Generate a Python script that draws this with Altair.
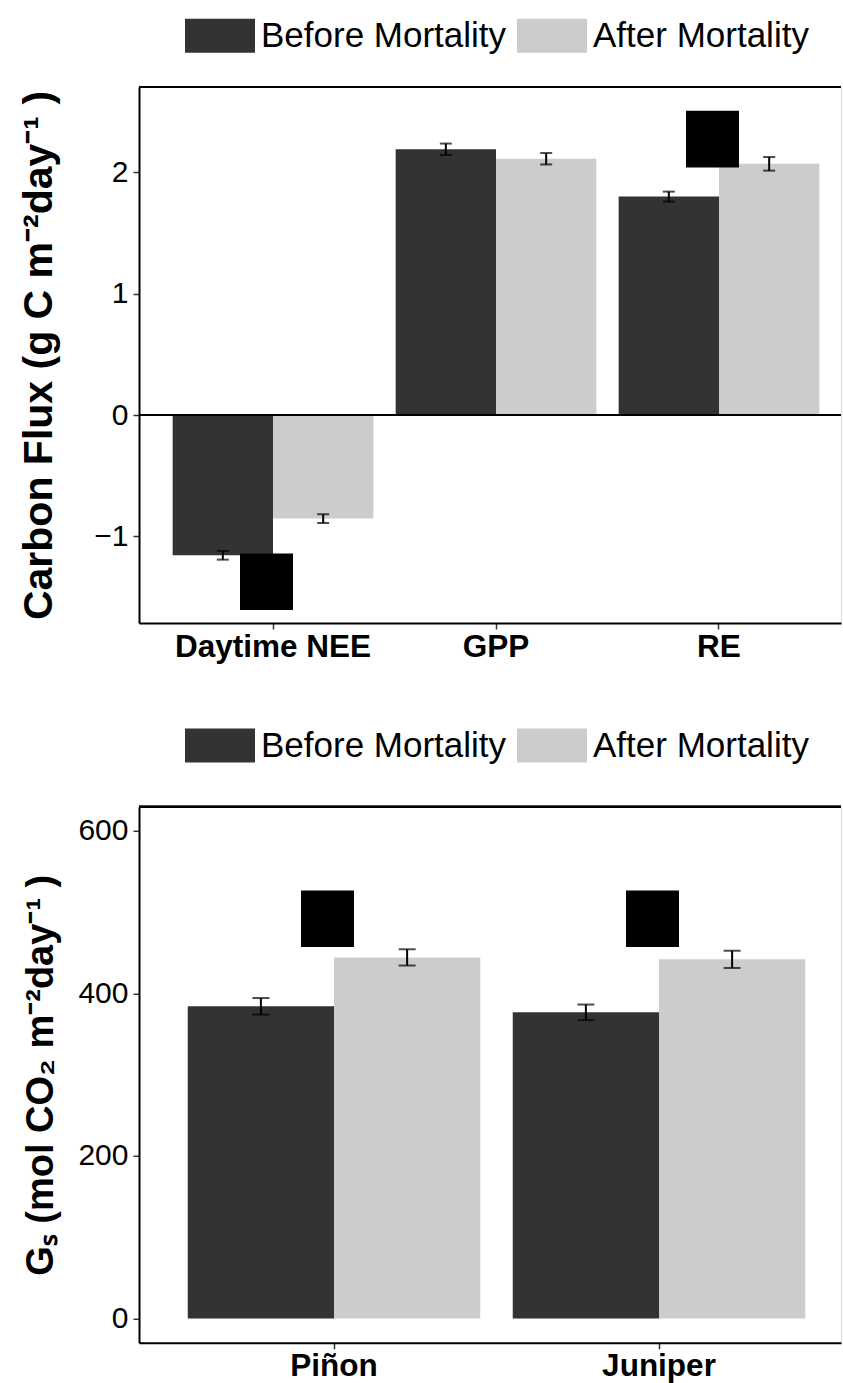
import altair as alt
import pandas as pd

FONT = "Liberation Sans"

# groups shown side by side in every category
periods = ["Before Mortality", "After Mortality"]
period_colors = ["#333333", "#cccccc"]

# carbon flux panel (g C m-2 day-1)
flux_terms = ["Daytime NEE", "GPP", "RE"]
flux_before = [-1.155, 2.19, 1.80]
flux_after = [-0.853, 2.112, 2.07]
flux_before_se = [0.036, 0.047, 0.041]
flux_after_se = [0.036, 0.047, 0.056]
flux_sig_terms = ["Daytime NEE", "RE"]
flux_sig_low = [-1.606, 2.04]
flux_sig_high = [-1.14, 2.507]
flux_ticks = [-1, 0, 1, 2]

# stomatal conductance panel (mol CO2 m-2 day-1)
species = ["Piñon", "Juniper"]
gs_before = [384.0, 376.6]
gs_after = [444.2, 441.8]
gs_before_se = [10.2, 9.6]
gs_after_se = [10.0, 10.6]
gs_sig_species = ["Piñon", "Juniper"]
gs_sig_low = [457.0, 457.0]
gs_sig_high = [526.6, 526.6]
gs_ticks = [0, 200, 400, 600]

PLOT_W = 702
PLOT_H = 536


def long_table(cats, before, after, before_se, after_se):
    rows = []
    for c, b, a, bs, as_ in zip(cats, before, after, before_se, after_se):
        rows.append({"cat": c, "period": periods[0], "value": b, "lo": b - bs, "hi": b + bs})
        rows.append({"cat": c, "period": periods[1], "value": a, "lo": a - as_, "hi": a + as_})
    return pd.DataFrame(rows)


def panel(cats, before, after, before_se, after_se, sig_cats, sig_lo, sig_hi,
          y_domain, y_ticks, y_title, title_size, pad_outer, align, cap, title_pad,
          legend_y, zero_line):
    df = long_table(cats, before, after, before_se, after_se)
    sig = pd.DataFrame({"cat": sig_cats, "lo": sig_lo, "hi": sig_hi})

    x_scale = alt.Scale(domain=cats, paddingInner=0.1, paddingOuter=pad_outer, align=align)
    y_scale = alt.Scale(domain=y_domain, nice=False, zero=False)
    x_axis = alt.Axis(
        labelFontSize=31.5, labelFontWeight="bold", labelColor="black", labelFont=FONT,
        labelAngle=0, labelLimit=0, tickSize=6, tickWidth=1.5, tickColor="#333333",
        domainColor="black", domainWidth=2, labelPadding=2, grid=False,
    )
    y_axis = alt.Axis(
        values=y_ticks, format="d", labelFontSize=30, labelColor="black", labelFont=FONT,
        tickSize=6, tickWidth=1.5, tickColor="#333333", domainColor="black",
        domainWidth=2, labelPadding=5, grid=False, titleFontSize=title_size,
        titleFontWeight="bold", titleFont=FONT, titleColor="black", titlePadding=title_pad,
    )
    x = alt.X("cat:N", scale=x_scale, axis=x_axis, title=None)
    xo = alt.XOffset("period:N", sort=periods, scale=alt.Scale(domain=periods))

    base = alt.Chart(df)
    bars = base.mark_bar().encode(
        x=x,
        xOffset=xo,
        y=alt.Y("value:Q", scale=y_scale, axis=y_axis, title=y_title),
        y2=alt.datum(0),
        color=alt.Color(
            "period:N",
            scale=alt.Scale(domain=periods, range=period_colors),
            title=None,
            legend=alt.Legend(
                orient="none", legendX=46, legendY=legend_y, direction="horizontal",
                symbolType="M-1,-0.4857H1V0.4857H-1Z", symbolSize=4900,
                symbolStrokeWidth=0, symbolOpacity=1, labelFontSize=35,
                labelFont=FONT, labelColor="black", labelOffset=6, labelLimit=0,
                columnPadding=10, padding=0,
            ),
        ),
    )
    whisker = base.mark_rule(color="black", strokeWidth=2).encode(
        x=x, xOffset=xo, y="lo:Q", y2="hi:Q"
    )
    cap_lo = base.mark_tick(color="black", thickness=2, size=cap).encode(x=x, xOffset=xo, y="lo:Q")
    cap_hi = base.mark_tick(color="black", thickness=2, size=cap).encode(x=x, xOffset=xo, y="hi:Q")
    marker = alt.Chart(sig).mark_bar(width=53, color="black", xOffset=-6.5).encode(
        x=x, y="lo:Q", y2="hi:Q"
    )
    top_line = alt.Chart(df).mark_rule(color="black", strokeWidth=2).encode(y=alt.value(0))
    layers = [bars, whisker, cap_lo, cap_hi, marker, top_line]
    if zero_line:
        layers.append(
            alt.Chart(df).mark_rule(color="black", strokeWidth=2).encode(y=alt.datum(0))
        )
    return alt.layer(*layers).properties(width=PLOT_W, height=PLOT_H)


flux = panel(
    flux_terms, flux_before, flux_after, flux_before_se, flux_after_se,
    flux_sig_terms, flux_sig_low, flux_sig_high,
    [-1.713, 2.703], flux_ticks, "Carbon Flux (g C m⁻²day⁻¹ )", 41,
    0.124, 0.6085, 12, 33, -86.3, True,
)
gs = panel(
    species, gs_before, gs_after, gs_before_se, gs_after_se,
    gs_sig_species, gs_sig_low, gs_sig_high,
    [-30, 629.5], gs_ticks, "Gₛ (mol CO₂ m⁻²day⁻¹ )", 38,
    0.130, 0.577, 17, 17, -96.3, False,
)

chart = (
    alt.vconcat(flux, gs, spacing=46.8)
    .resolve_scale(color="independent", x="independent", y="independent",
                   xOffset="independent")
    .resolve_legend(color="independent")
    .properties(padding={"left": 18, "top": 0, "right": 0, "bottom": 0})
    .configure_view(stroke=None)
    .configure(background="white")
)

chart.save("out.html", embed_options={"renderer": "svg", "actions": False})
